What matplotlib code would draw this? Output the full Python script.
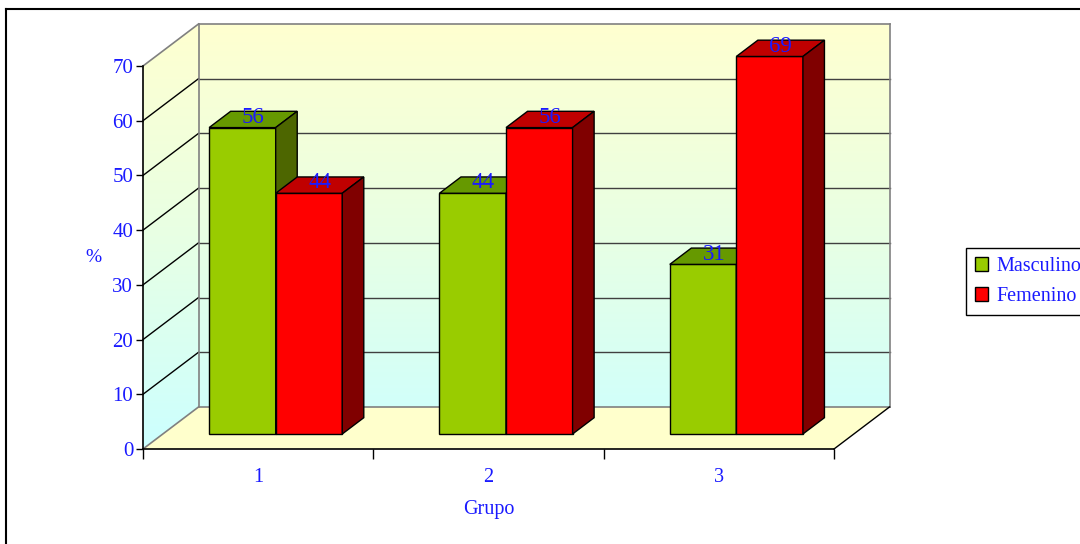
import numpy as np
import matplotlib
matplotlib.use("Agg")
import matplotlib.pyplot as plt
from matplotlib.patches import Polygon, Patch
from matplotlib.lines import Line2D
from matplotlib.colors import LinearSegmentedColormap

grupos = ["1", "2", "3"]
masculino = [56, 44, 31]
femenino = [44, 56, 69]
series = ["Masculino", "Femenino"]
yticks = [0, 10, 20, 30, 40, 50, 60, 70]

# colores de cada barra: frente, techo, lado
verde = ("#99cc00", "#669900", "#4d6600")
rojo = ("#ff0000", "#c00000", "#800000")
azul = "#1a1aff"

# proyeccion oblicua: profundidad 1 desplaza x e y (en unidades de datos)
PX = 0.241
PY = 7.68
Z0, Z1 = 0.357, 0.745
ANCHO = 0.289
YMAX = 70
NX = len(grupos)

plt.rcParams["font.family"] = ["Liberation Serif", "DejaVu Serif"]

W, H = 1080, 544
fig = plt.figure(figsize=(W / 100, H / 100), dpi=100)
ax = fig.add_axes([143 / W, (H - 449) / H, 691 / W, 383 / H])


def p(x, v, z):
    return (x + PX * z, v + PY * z)


def linea(a, b, **kw):
    ax.plot([a[0], b[0]], [a[1], b[1]], clip_on=False, **kw)


def barra(x0, v, colores):
    x1 = x0 + ANCHO
    frente = [p(x0, 0, Z0), p(x1, 0, Z0), p(x1, v, Z0), p(x0, v, Z0)]
    techo = [p(x0, v, Z0), p(x1, v, Z0), p(x1, v, Z1), p(x0, v, Z1)]
    lado = [p(x1, 0, Z0), p(x1, 0, Z1), p(x1, v, Z1), p(x1, v, Z0)]
    for cara, c in zip((frente, techo, lado), colores):
        ax.add_patch(Polygon(cara, closed=True, facecolor=c, edgecolor="black",
                             lw=1.0, clip_on=False, zorder=5))
    tx = x0 + ANCHO / 2 + PX * (Z0 + Z1) / 2
    ty = v + PY * Z1 - 1.1
    ax.text(tx, ty, f"{v}", color=azul, fontsize=16.5, ha="center", va="center",
            zorder=6)


# paredes con degradado
pared = Polygon([p(0, 0, 0), p(0, 0, 1), p(NX, 0, 1), p(NX, YMAX, 1),
                 p(0, YMAX, 1), p(0, YMAX, 0)], closed=True,
                transform=ax.transData)
fondo = LinearSegmentedColormap.from_list("fondo", ["#ccffff", "#e8ffe4", "#ffffd0"])
grad = np.linspace(0, 1, 256)[:, None]
im = ax.imshow(grad, cmap=fondo, origin="lower", aspect="auto",
               extent=(0, NX + PX, 0, YMAX + PY), zorder=0)
im.set_clip_box(fig.bbox)
im.set_clip_path(pared)

# piso
ax.add_patch(Polygon([p(0, 0, 0), p(NX, 0, 0), p(NX, 0, 1), p(0, 0, 1)],
                     closed=True, facecolor="#ffffcc", edgecolor="none",
                     clip_on=False, zorder=1))

# lineas de division
for v in yticks[1:-1]:
    linea(p(0, v, 1), p(NX, v, 1), color="#404040", lw=1, zorder=2)
    linea(p(0, v, 0), p(0, v, 1), color="black", lw=1, zorder=2)
gris = dict(color="#808080", lw=1.2, zorder=2)
linea(p(0, 0, 0), p(0, 0, 1), **gris)
linea(p(0, YMAX, 0), p(0, YMAX, 1), **gris)
linea(p(0, 0, 1), p(0, YMAX, 1), **gris)
linea(p(0, YMAX, 1), p(NX, YMAX, 1), **gris)
linea(p(NX, YMAX, 1), p(NX, 0, 1), **gris)
linea(p(0, 0, 1), p(NX, 0, 1), **gris)
linea(p(NX, 0, 0), p(NX, 0, 1), color="black", lw=1, zorder=2)

# barras
for i in range(NX):
    c = i + 0.49
    barra(c - ANCHO, masculino[i], verde)
    barra(c, femenino[i], rojo)

ax.set_xlim(0, NX)
ax.set_ylim(0, YMAX)
ax.set_facecolor("none")
for s in ("top", "right"):
    ax.spines[s].set_visible(False)
for s in ("left", "bottom"):
    ax.spines[s].set_color("black")
    ax.spines[s].set_linewidth(1.2)

ax.set_yticks(yticks)
ax.tick_params(axis="y", length=5, width=1, pad=2, labelsize=15, labelcolor=azul)
ax.set_xticks(range(NX + 1))
ax.set_xticklabels([])
ax.set_xticks(np.arange(NX) + 0.5, minor=True)
ax.set_xticklabels(grupos, minor=True)
ax.tick_params(axis="x", which="major", length=7, width=1)
ax.tick_params(axis="x", which="minor", length=0, pad=14, labelsize=14.5,
               labelcolor=azul)

ax.set_ylabel("%", rotation=0, color=azul, fontsize=14, ha="center", va="center")
ax.yaxis.set_label_coords(-0.072, 0.5)
ax.set_xlabel("Grupo", color=azul, fontsize=14.5, va="center")
ax.xaxis.set_label_coords(0.5, -0.159)

handles = [Patch(facecolor=verde[0], edgecolor="black"),
           Patch(facecolor=rojo[0], edgecolor="black")]
leg = fig.legend(handles, series, loc="upper left",
                 bbox_to_anchor=(966 / W, 1 - 248 / H), bbox_transform=fig.transFigure,
                 borderaxespad=0, fancybox=False, framealpha=1, edgecolor="black",
                 fontsize=14.5, handlelength=0.65, handleheight=0.65,
                 handletextpad=0.4, labelspacing=0.55, borderpad=0.45)
for t in leg.get_texts():
    t.set_color(azul)
leg.get_frame().set_linewidth(1)

# marco exterior
fig.add_artist(Line2D([6 / W, 1], [1 - 9 / H, 1 - 9 / H], color="black", lw=1.5,
                      transform=fig.transFigure))
fig.add_artist(Line2D([6 / W, 6 / W], [0, 1 - 9 / H], color="black", lw=1.5,
                      transform=fig.transFigure))

fig.savefig("out.png", dpi=100)
